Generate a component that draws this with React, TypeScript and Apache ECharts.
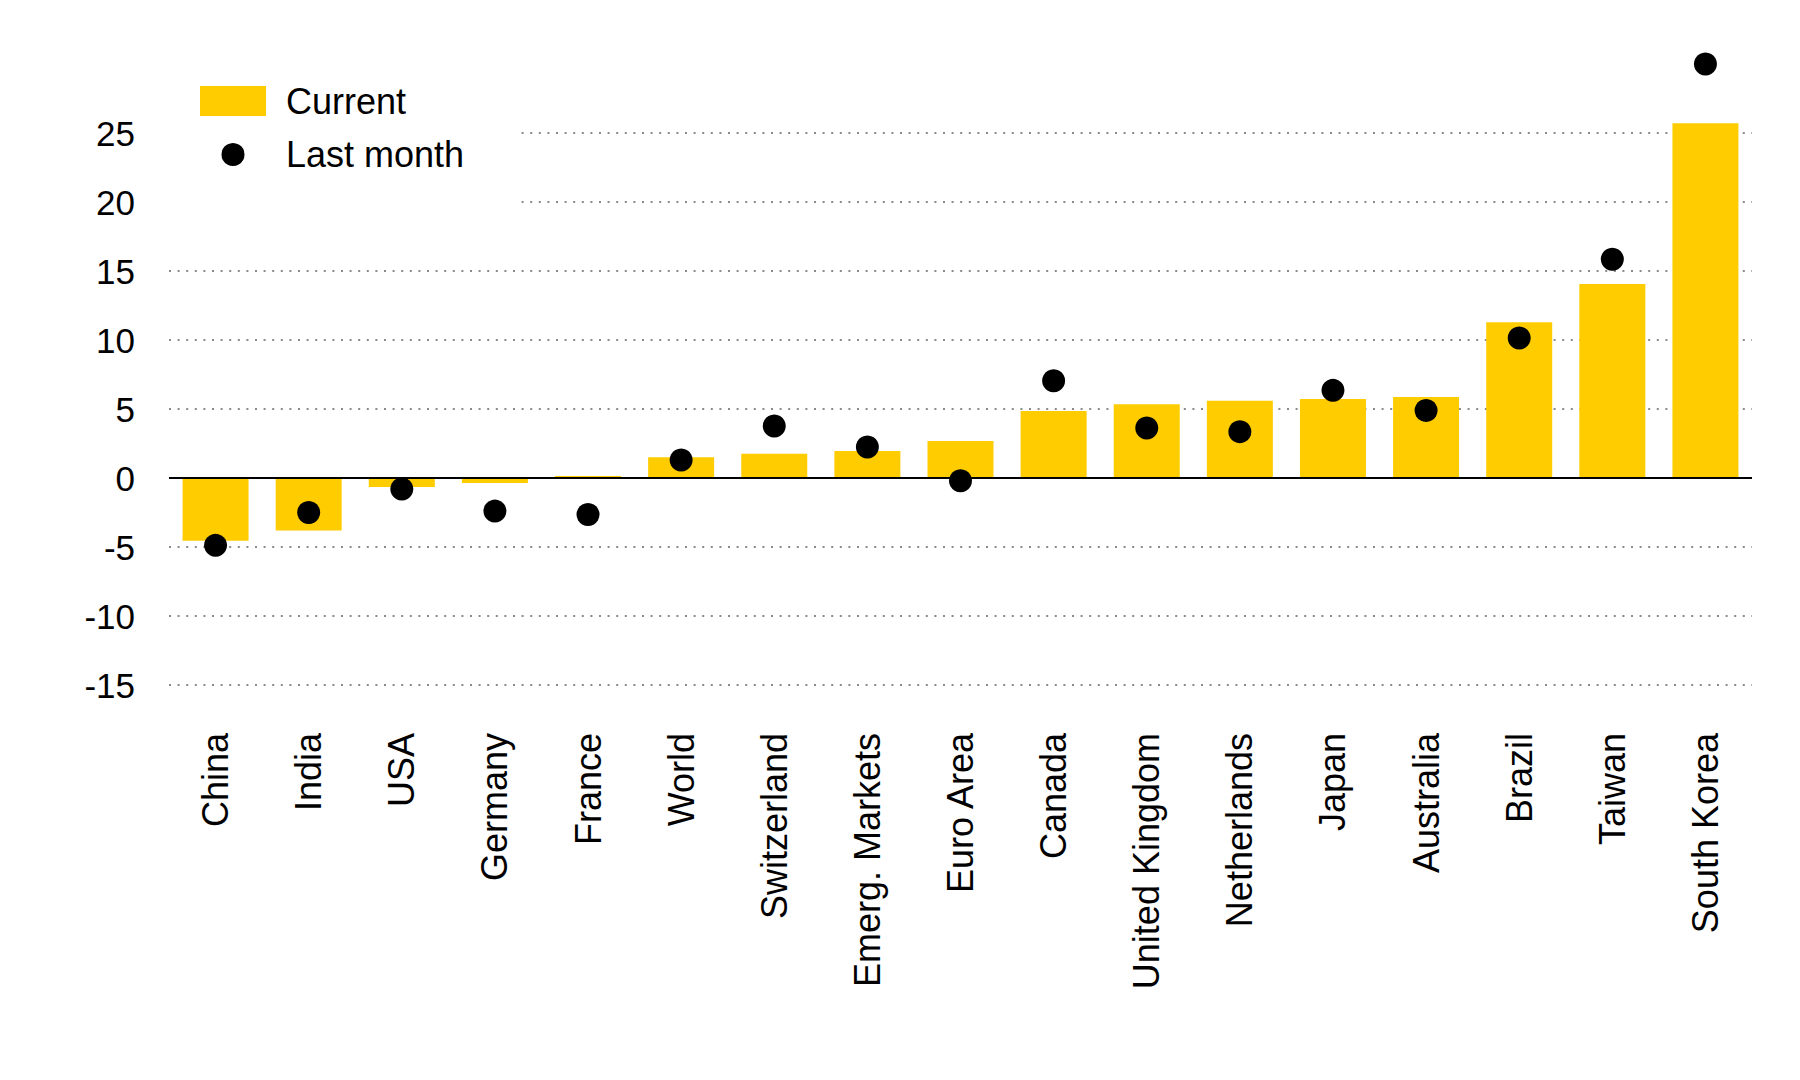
import { useEffect, useRef } from 'react';
import * as echarts from 'echarts';

const categories = [
  'China', 'India', 'USA', 'Germany', 'France', 'World', 'Switzerland',
  'Emerg. Markets', 'Euro Area', 'Canada', 'United Kingdom', 'Netherlands',
  'Japan', 'Australia', 'Brazil', 'Taiwan', 'South Korea',
];
const current = [-4.55, -3.8, -0.65, -0.36, 0.14, 1.5, 1.75, 1.95, 2.68, 4.86, 5.34, 5.6, 5.72, 5.87, 11.28, 14.06, 25.7];
const lastMonth = [-4.88, -2.5, -0.8, -2.4, -2.65, 1.3, 3.77, 2.25, -0.2, 7.05, 3.62, 3.36, 6.35, 4.9, 10.14, 15.85, 30.0];

const FONT = "'Liberation Sans', Arial, sans-serif";

const App = () => {
  const chartDom = useRef<HTMLDivElement | null>(null);

  useEffect(() => {
    if (chartDom.current) {
      const myChart = echarts.init(chartDom.current, null, { renderer: 'svg' });
      const option = {
        animation: false,
        textStyle: { fontFamily: FONT, color: '#000' },
        grid: { left: 169, right: 48, top: 64, bottom: 395, containLabel: false },
        legend: {
          orient: 'vertical',
          left: 165,
          top: 69,
          padding: [14, 56, 40, 35],
          backgroundColor: '#fff',
          itemWidth: 66,
          itemHeight: 30,
          itemGap: 17,
          textStyle: { fontFamily: FONT, fontSize: 36, color: '#000', padding: [0, 0, 0, 15] },
          data: [
            { name: 'Current', icon: 'rect' },
            { name: 'Last month', icon: 'circle', itemStyle: { borderColor: '#fff', borderWidth: 7, opacity: 1 } },
          ],
        },
        xAxis: {
          type: 'category',
          data: categories,
          axisLine: { show: false, onZero: false },
          axisTick: { show: false },
          axisLabel: {
            rotate: 90,
            margin: 48,
            interval: 0,
            fontSize: 36,
            fontFamily: FONT,
            color: '#000',
          },
        },
        yAxis: {
          type: 'value',
          min: -15,
          max: 30,
          interval: 5,
          axisLine: { show: false },
          axisTick: { show: false },
          axisLabel: {
            margin: 34,
            fontSize: 35,
            fontFamily: FONT,
            color: '#000',
            showMaxLabel: false,
          },
          splitLine: {
            show: true,
            showMaxLine: false,
            lineStyle: { color: '#8a8a8a', width: 2, type: [2, 6.6] },
          },
        },
        series: [
          {
            name: 'Current',
            type: 'bar',
            data: current,
            barWidth: 66,
            itemStyle: { color: '#ffcc00' },
            markLine: {
              silent: true,
              symbol: ['none', 'none'],
              label: { show: false },
              lineStyle: { color: '#000', type: 'solid', width: 2 },
              data: [{ yAxis: 0 }],
            },
          },
          {
            name: 'Last month',
            type: 'scatter',
            data: lastMonth,
            symbol: 'circle',
            symbolSize: 23,
            clip: false,
            z: 10,
            itemStyle: { color: '#000', opacity: 1 },
          },
        ],
      };

      myChart.setOption(option);

      return () => {
        myChart.dispose();
      };
    }
  }, []);

  return (
    <div style={{ position: 'fixed', left: 0, top: 0, width: 1800, height: 1080, background: '#fff' }}>
      <div ref={chartDom} style={{ width: '100%', height: '100%' }} />
    </div>
  );
};

export default App;
